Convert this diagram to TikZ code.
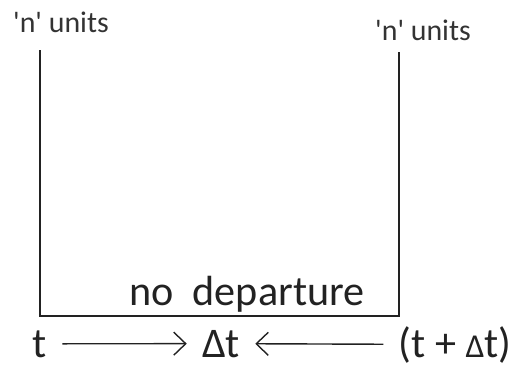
\documentclass[tikz,border=0pt]{standalone}
\usepackage{fontspec}
\setmainfont{Carlito}
\usepackage{tikz}
\usetikzlibrary{arrows.meta}
\definecolor{inkc}{HTML}{222222}
\definecolor{lblc}{HTML}{333333}
\tikzset{
  wall/.style={draw=inkc, line width=1pt},
  units/.style={font=\fontsize{17}{19}\selectfont, text=lblc, inner sep=0pt},
  mid/.style={font=\fontsize{24}{27}\selectfont, text=inkc, inner sep=0pt, anchor=base},
  tlbl/.style={font=\fontsize{24}{27}\selectfont, text=inkc, inner sep=0pt, anchor=base},
  arr/.style={-{Straight Barb[length=2.4mm, width=4.6mm]}, draw=inkc, line width=0.8pt,
              shorten <=8.5pt, shorten >=8.5pt},
}

\begin{document}
\begin{tikzpicture}
  \useasboundingbox (0,0) rectangle (10.22,7.38);

  % open box
  \coordinate (ltop) at (0.8,6.38);
  \coordinate (lbot) at (0.8,1.06);
  \coordinate (rbot) at (7.98,1.06);
  \coordinate (rtop) at (7.98,6.34);
  \draw[wall] (ltop) -- (lbot) -- (rbot) -- (rtop);

  \node[units] (nl) at (1.22,6.94) {\textquotesingle n\textquotesingle\ units};
  \node[units] (nr) at (8.46,6.78) {\textquotesingle n\textquotesingle\ units};

  \node[mid] (nodep) at (4.94,1.28) {no\hspace{0.45em}departure};

  % time axis
  \node[tlbl] (t) at (0.8,0.24) {t};
  \node[tlbl] (dt) at (4.42,0.24) {Δt};
  \node[tlbl] (tdt) at (9.1,0.24) {(t + {\fontsize{19}{20}\selectfont Δ}t)};

  \draw[arr] (t) -- (dt);
  \draw[arr] (tdt) -- (dt);
\end{tikzpicture}
\end{document}
